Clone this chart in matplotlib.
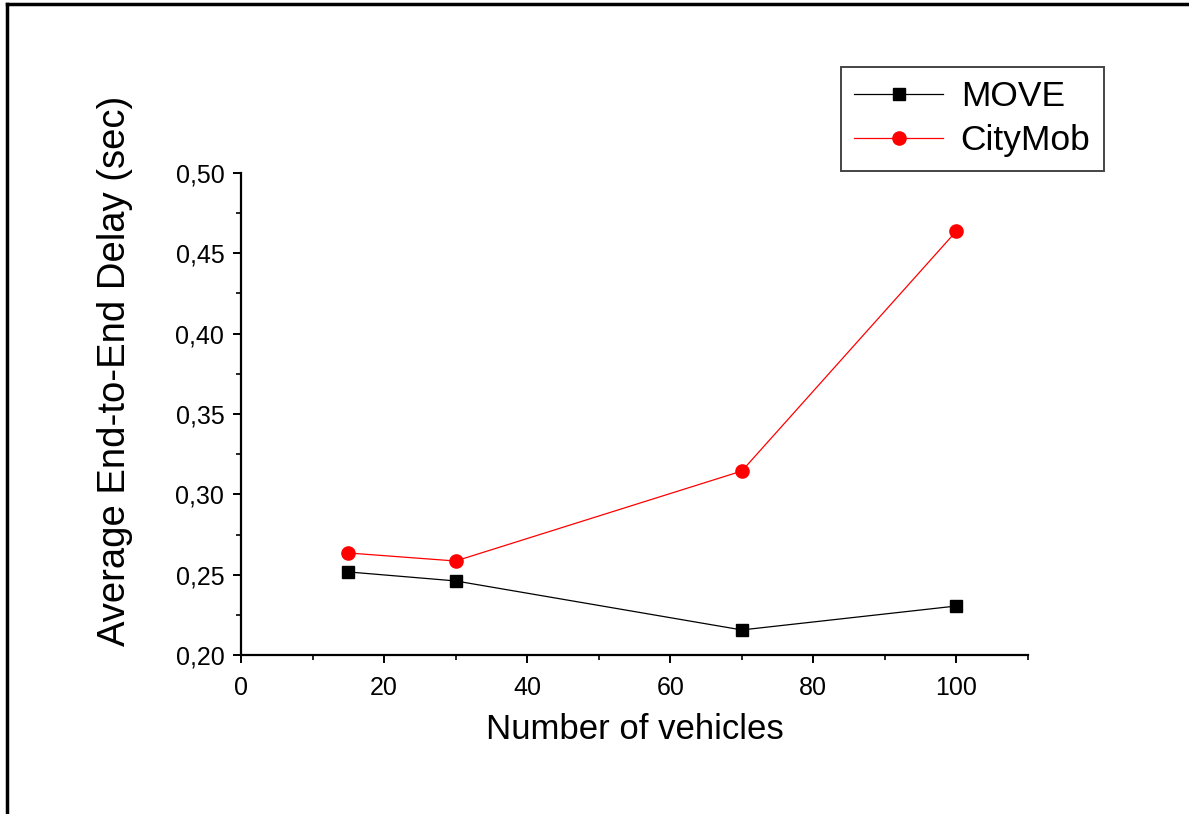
#!/usr/bin/env python3
"""
Average end-to-end delay vs. number of vehicles, MOVE vs CityMob.
"""
import matplotlib
matplotlib.use('Agg')
import matplotlib.pyplot as plt
from matplotlib.ticker import MultipleLocator
from matplotlib.lines import Line2D

vehicles = [15, 30, 70, 100]
move_delay = [0.2517, 0.2461, 0.2156, 0.2305]
citymob_delay = [0.2635, 0.2585, 0.3145, 0.4639]
series_names = ['MOVE', 'CityMob']

plt.rcParams['font.family'] = ['Liberation Sans', 'DejaVu Sans']


def comma_fmt(v, pos):
    return ('%.2f' % v).replace('.', ',')


def main():
    W, H = 1189, 814
    fig = plt.figure(figsize=(W / 100, H / 100), dpi=100)
    ax = fig.add_axes([241 / W, 1 - 655 / H, (1028 - 241) / W, (655 - 173) / H])

    ax.plot(vehicles, move_delay, color='black', lw=0.9, marker='s', ms=8.5,
            label=series_names[0], clip_on=False)
    ax.plot(vehicles, citymob_delay, color='red', lw=0.9, marker='o', ms=9.5,
            label=series_names[1], clip_on=False)

    ax.set_xlim(0, 110)
    ax.set_ylim(0.20, 0.50)
    ax.xaxis.set_major_locator(MultipleLocator(20))
    ax.xaxis.set_minor_locator(MultipleLocator(10))
    ax.yaxis.set_major_locator(MultipleLocator(0.05))
    ax.yaxis.set_minor_locator(MultipleLocator(0.025))
    ax.yaxis.set_major_formatter(plt.FuncFormatter(comma_fmt))

    for side in ('top', 'right'):
        ax.spines[side].set_visible(False)
    for side in ('left', 'bottom'):
        ax.spines[side].set_linewidth(1.6)
    ax.tick_params(which='major', direction='out', length=6, width=1.4,
                   labelsize=18)
    ax.tick_params(axis='x', which='major', pad=9)
    ax.tick_params(axis='y', which='major', pad=6)
    ax.tick_params(which='minor', direction='out', length=3.5, width=1.2)

    ax.set_xlabel('Number of vehicles', fontsize=25)
    ax.xaxis.set_label_coords(0.5, -0.12)
    ax.set_ylabel('Average End-to-End Delay (sec)', fontsize=27.5)
    ax.yaxis.set_label_coords(-0.137, 0.59)

    handles = [
        Line2D([], [], color='black', lw=0.9, marker='s', ms=8.5),
        Line2D([], [], color='red', lw=0.9, marker='o', ms=9.5),
    ]
    leg = fig.legend(handles, series_names, loc='upper left',
                     bbox_to_anchor=(841 / W, 1 - 67 / H),
                     fontsize=25.5, handlelength=2.5, handletextpad=0.5,
                     borderpad=0.38, labelspacing=0.3, fancybox=False,
                     framealpha=1, borderaxespad=0)
    leg.get_frame().set_edgecolor('#444444')
    leg.get_frame().set_linewidth(1.4)

    # outer frame (only top and left edges are visible in the original)
    fig.add_artist(Line2D([7 / W, 1], [1 - 4 / H, 1 - 4 / H], color='black',
                          lw=2.5, transform=fig.transFigure))
    fig.add_artist(Line2D([7 / W, 7 / W], [0, 1 - 4 / H], color='black',
                          lw=2.5, transform=fig.transFigure))

    fig.savefig('out.png', dpi=100)


if __name__ == '__main__':
    main()
